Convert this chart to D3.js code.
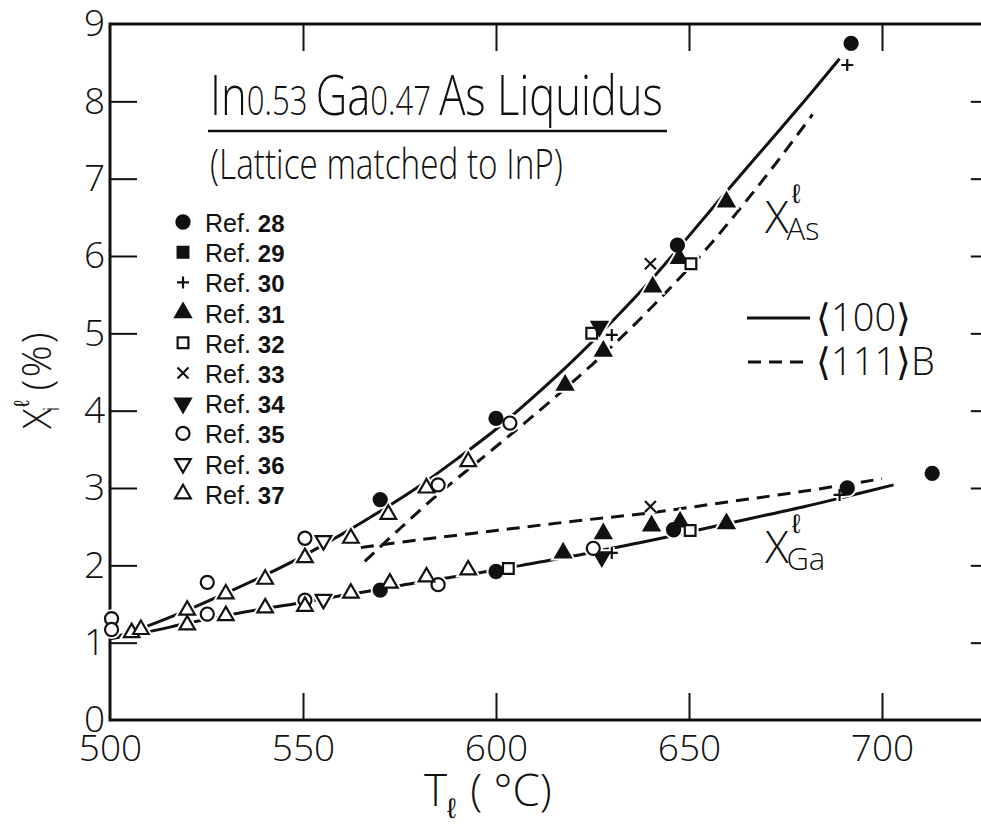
<!DOCTYPE html>
<html>
<head>
<meta charset="utf-8">
<script src="https://cdn.jsdelivr.net/npm/d3@7"></script>
<style>
  html, body { margin: 0; padding: 0; background: #fff; }
  svg { display: block; }
</style>
</head>
<body>
<div id="chart"></div>
<script>
// axis ticks
const tempTicks = [500, 550, 600, 650, 700];
const pctTicks = [0, 1, 2, 3, 4, 5, 6, 7, 8, 9];

// measured points, [T (°C), X (%)]  (As branch first, then Ga branch)
const ref28 = [[570, 2.85], [600, 3.90], [647, 6.14], [692, 8.75],
               [570, 1.68], [600, 1.92], [646, 2.46], [691, 3.00], [713, 3.19]];
const ref29 = [];
const ref30 = [[630, 4.98], [691, 8.47], [630, 2.16], [689, 2.91]];
const ref31 = [[617.9, 4.33], [627.8, 4.77], [640.6, 5.60], [647.5, 5.97], [659.7, 6.70],
               [617.4, 2.16], [627.8, 2.41], [640.3, 2.51], [647.7, 2.56], [659.7, 2.54]];
const ref32 = [[624.8, 5.0], [650.5, 5.9], [603.2, 1.96], [650.3, 2.45]];
const ref33 = [[640, 5.9], [640, 2.76]];
const ref34 = [[626.8, 5.09], [627.4, 2.11]];
const ref35 = [[500.4, 1.31], [525.2, 1.78], [550.5, 2.35], [585, 3.04], [603.6, 3.84],
               [500.4, 1.17], [525.2, 1.37], [550.5, 1.55], [585, 1.75], [625.2, 2.22]];
const ref36 = [[555.3, 2.32], [555.3, 1.56]];
const ref37 = [[505.6, 1.13], [508, 1.17], [520, 1.42], [530, 1.63], [540.2, 1.82],
               [550.5, 2.10], [562.4, 2.35], [572.1, 2.66], [582, 3.0], [592.8, 3.34],
               [520, 1.23], [530, 1.35], [540.2, 1.45], [550.5, 1.47], [562.4, 1.64],
               [572.5, 1.77], [582, 1.85], [592.8, 1.94]];

// liquidus curves
const as100 = [[500, 1.05], [510, 1.22], [520, 1.42], [530, 1.64], [540, 1.87], [550, 2.12],
               [560, 2.4], [570, 2.7], [580, 3.02], [590, 3.38], [600, 3.76], [610, 4.19],
               [620, 4.65], [630, 5.15], [640, 5.68], [650, 6.26], [660, 6.85], [670, 7.43],
               [680, 8.01], [689, 8.55]];
const as111B = [[566, 2.05], [575, 2.47], [585, 2.92], [595, 3.33], [605, 3.74], [615, 4.16],
                [625, 4.6], [635, 5.07], [645, 5.58], [655, 6.12], [664, 6.66], [673, 7.23],
                [682, 7.83]];
const ga100 = [[500, 1.05], [510, 1.14], [520, 1.25], [530, 1.35], [540, 1.44], [550, 1.52],
               [560, 1.61], [570, 1.69], [580, 1.78], [590, 1.86], [600, 1.94], [610, 2.03],
               [620, 2.12], [630, 2.22], [640, 2.32], [650, 2.43], [660, 2.54], [670, 2.65],
               [680, 2.76], [690, 2.88], [703, 3.04]];
const ga111B = [[565, 2.23], [580, 2.33], [600, 2.45], [620, 2.57], [640, 2.68], [660, 2.82],
                [680, 2.96], [700, 3.12]];

const refs = [
  { label: '28', pts: ref28, kind: 'circle', fill: true },
  { label: '29', pts: ref29, kind: 'square', fill: true },
  { label: '30', pts: ref30, kind: 'plus' },
  { label: '31', pts: ref31, kind: 'tri', fill: true },
  { label: '32', pts: ref32, kind: 'square', fill: false },
  { label: '33', pts: ref33, kind: 'cross' },
  { label: '34', pts: ref34, kind: 'triDown', fill: true },
  { label: '35', pts: ref35, kind: 'circle', fill: false },
  { label: '36', pts: ref36, kind: 'triDown', fill: false },
  { label: '37', pts: ref37, kind: 'tri', fill: false }
];

const width = 981, height = 824;
const lightFont = "'Open Sans', 'DejaVu Sans', sans-serif";
const scriptFont = "'DejaVu Sans', sans-serif";

const x = d3.scaleLinear().domain([500, 700]).range([110, 882]);
const y = d3.scaleLinear().domain([0, 9]).range([720, 24]);
const xRight = x(730);

const svg = d3.select('#chart').append('svg')
  .attr('width', width).attr('height', height);

// ---- frame + ticks
const axBottom = svg.append('g').attr('transform', `translate(0,${y(0)})`)
  .call(d3.axisBottom(x).tickValues(tempTicks).tickSizeInner(-27).tickSizeOuter(0)
    .tickPadding(15).tickFormat(d3.format('d')));
const axTop = svg.append('g').attr('transform', `translate(0,${y(9)})`)
  .call(d3.axisTop(x).tickValues(tempTicks.slice(1)).tickSizeInner(-27).tickSizeOuter(0).tickFormat(''));
const axLeft = svg.append('g').attr('transform', `translate(${x(500)},0)`)
  .call(d3.axisLeft(y).tickValues(pctTicks).tickSizeInner(-27).tickSizeOuter(0)
    .tickPadding(5).tickFormat(d3.format('d')));
const axRight = svg.append('g').attr('transform', `translate(${xRight},0)`)
  .call(d3.axisRight(y).tickValues(pctTicks.slice(1, 9)).tickSizeInner(-27).tickSizeOuter(0).tickFormat(''));

[axBottom, axTop, axLeft, axRight].forEach(g => {
  g.select('.domain').remove();
  g.selectAll('.tick line').attr('stroke', '#111').attr('stroke-width', 2);
  g.selectAll('.tick text').attr('fill', '#111')
    .style('font-family', lightFont).style('font-weight', 300).style('font-size', '37px');
});
axBottom.selectAll('.tick').filter(d => d === 500).select('line').remove();
axLeft.selectAll('.tick').filter(d => d === 0 || d === 9).select('line').remove();

svg.append('rect')
  .attr('x', x(500)).attr('y', y(9))
  .attr('width', xRight - x(500)).attr('height', y(0) - y(9))
  .attr('fill', 'none').attr('stroke', '#111').attr('stroke-width', 3);

// ---- curves
const line = d3.line().x(d => x(d[0])).y(d => y(d[1])).curve(d3.curveCatmullRom.alpha(0.5));
const curves = svg.append('g').attr('fill', 'none').attr('stroke', '#111').attr('stroke-width', 3);
curves.append('path').attr('d', line(as100));
curves.append('path').attr('d', line(ga100));
curves.append('path').attr('d', line(as111B)).attr('stroke-dasharray', '13,8');
curves.append('path').attr('d', line(ga111B)).attr('stroke-dasharray', '13,8');

// ---- markers
function markerPath(kind) {
  switch (kind) {
    case 'circle': return d3.symbol(d3.symbolCircle, 135)();
    case 'square': return d3.symbol(d3.symbolSquare, 115)();
    case 'tri':
    case 'triDown': return d3.symbol(d3.symbolTriangle, 105)();
    case 'plus': return 'M-6,0H6M0,-6V6';
    case 'cross': return 'M-5.5,-5.5L5.5,5.5M5.5,-5.5L-5.5,5.5';
  }
}
function drawMarker(g, r, cx, cy, halo) {
  const p = g.append('path')
    .attr('d', markerPath(r.kind))
    .attr('transform', `translate(${cx},${cy})` + (r.kind === 'triDown' ? ' rotate(180)' : ''));
  if (halo) {
    p.attr('fill', '#fff').attr('stroke', '#fff').attr('stroke-width', 6);
  } else if (r.kind === 'plus' || r.kind === 'cross') {
    p.attr('fill', 'none').attr('stroke', '#111').attr('stroke-width', 2.2);
  } else {
    p.attr('fill', r.fill ? '#111' : '#fff').attr('stroke', '#111').attr('stroke-width', 2.2);
  }
}
const halos = svg.append('g');
const marks = svg.append('g');
refs.forEach(r => {
  r.pts.forEach(d => {
    drawMarker(halos, r, x(d[0]), y(d[1]), true);
    drawMarker(marks, r, x(d[0]), y(d[1]), false);
  });
});

// ---- reference legend
const leg = svg.append('g');
refs.forEach((r, i) => {
  const ly = 222 + i * 30.2;
  drawMarker(leg, r, 183, ly, false);
  const t = leg.append('text').attr('x', 205).attr('y', ly + 10)
    .attr('fill', '#111').style('font-family', "'Liberation Sans', Arial, sans-serif")
    .style('font-size', '25px');
  t.append('tspan').text('Ref. ');
  t.append('tspan').style('font-weight', 'bold').style('font-size', '24px').text(r.label);
});

// ---- title block
function fitText(sel, x0, base, w) {
  const bw = sel.node().getComputedTextLength();
  sel.attr('x', 0).attr('y', 0)
    .attr('transform', `translate(${x0},${base}) scale(${w / bw},1)`);
}
const title = svg.append('text').attr('fill', '#111')
  .style('font-family', lightFont).style('font-weight', 300);
title.append('tspan').style('font-size', '56px').text('In');
title.append('tspan').style('font-size', '40px').text('0.53 ');
title.append('tspan').style('font-size', '56px').text('Ga');
title.append('tspan').style('font-size', '40px').text('0.47 ');
title.append('tspan').style('font-size', '56px').text('As Liquidus');
fitText(title, 210, 115, 453);

svg.append('line').attr('x1', 208).attr('x2', 667).attr('y1', 131).attr('y2', 131)
  .attr('stroke', '#111').attr('stroke-width', 2.5);

const sub = svg.append('text').attr('fill', '#111')
  .style('font-family', lightFont).style('font-weight', 300).style('font-size', '42px')
  .text('(Lattice matched to InP)');
fitText(sub, 210, 179, 353);

// ---- curve labels
function curveLabel(x0, base, subTxt) {
  const t = svg.append('text').attr('x', x0).attr('y', base).attr('fill', '#111')
    .style('font-family', lightFont).style('font-weight', 300);
  t.append('tspan').style('font-size', '44px').text('X');
  t.append('tspan').attr('dx', 3).attr('dy', -30).style('font-size', '27px')
    .style('font-family', scriptFont).text('ℓ');
  t.append('tspan').attr('dx', -14).attr('dy', 37).style('font-size', '31px').text(subTxt);
}
curveLabel(765, 233, 'As');
curveLabel(765, 563, 'Ga');

// ---- orientation legend
const oLeg = svg.append('g').attr('stroke', '#111').attr('stroke-width', 3);
oLeg.append('line').attr('x1', 747).attr('x2', 810).attr('y1', 318).attr('y2', 318);
oLeg.append('line').attr('x1', 748).attr('x2', 810).attr('y1', 362).attr('y2', 362)
  .attr('stroke-dasharray', '13,8');
svg.append('text').attr('x', 816).attr('y', 331).attr('fill', '#111')
  .style('font-family', lightFont).style('font-weight', 300).style('font-size', '38px')
  .text('⟨100⟩');
svg.append('text').attr('x', 816).attr('y', 375).attr('fill', '#111')
  .style('font-family', lightFont).style('font-weight', 300).style('font-size', '38px')
  .text('⟨111⟩B');

// ---- axis titles
const xt = svg.append('text').attr('x', 424).attr('y', 806).attr('fill', '#111')
  .style('font-family', lightFont).style('font-weight', 300);
xt.append('tspan').style('font-size', '44px').text('T');
xt.append('tspan').attr('dy', 12).style('font-size', '28px')
  .style('font-family', scriptFont).text('ℓ');
xt.append('tspan').attr('dy', -12).attr('dx', 14).style('font-size', '44px').text('( °C)');

const yt = svg.append('text')
  .attr('transform', 'translate(51,429) rotate(-90)')
  .attr('fill', '#111').style('font-family', lightFont).style('font-weight', 300);
yt.append('tspan').style('font-size', '38px').text('X');
yt.append('tspan').attr('dx', 1).attr('dy', -22).style('font-size', '22px')
  .style('font-family', scriptFont).text('ℓ');
yt.append('tspan').attr('dx', -11).attr('dy', 30).style('font-size', '22px').text('i');
yt.append('tspan').attr('dx', 16).attr('dy', -8).style('font-size', '40px')
  .attr('letter-spacing', 2).text('(%)');
</script>
</body>
</html>
